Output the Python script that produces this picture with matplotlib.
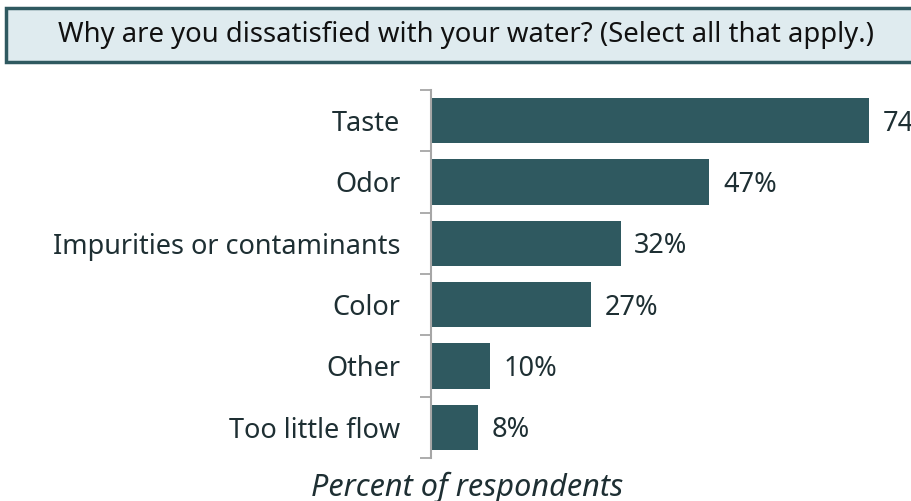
import matplotlib.pyplot as plt
from matplotlib.patches import Rectangle

categories = ['Taste', 'Odor', 'Impurities or contaminants', 'Color', 'Other', 'Too little flow']
values = [74, 47, 32, 27, 10, 8]

title = 'Why are you dissatisfied with your water? (Select all that apply.)'
bar_color = '#2F5960'
text_color = '#1E2F33'

plt.rcParams['font.family'] = ['Noto Sans', 'DejaVu Sans']

fig = plt.figure(figsize=(9.11, 5.01), dpi=100)
ax = fig.add_axes([431 / 911, 43 / 501, 474 / 911, 368 / 501])

y = list(range(len(categories)))
ax.barh(y, values, height=0.74, color=bar_color)
ax.set_ylim(len(categories) - 0.5, -0.5)
ax.set_xlim(0, 80)

for yi, v in zip(y, values):
    ax.text(v + 2.3, yi + 0.05, f'{v}%', va='center', ha='left',
            fontsize=19.5, color=text_color, clip_on=False)

ax.set_yticks(y)
ax.set_yticklabels(categories, fontsize=19.5, color=text_color)
ax.tick_params(axis='y', which='major', length=0, pad=22)
ax.set_yticks([i - 0.5 for i in range(len(categories) + 1)], minor=True)
ax.tick_params(axis='y', which='minor', length=8, width=1.3, color='#A6A6A6')
ax.set_xticks([])

for s in ['top', 'right', 'bottom']:
    ax.spines[s].set_visible(False)
ax.spines['left'].set_color('#A6A6A6')
ax.spines['left'].set_linewidth(1.5)

fig.text(467 / 911, 14 / 501, 'Percent of respondents', ha='center', va='center',
         fontsize=22, style='italic', color=text_color)

box = Rectangle((6 / 911, 439 / 501), 910 / 911, 54 / 501, transform=fig.transFigure,
                facecolor='#DFEBEF', edgecolor=bar_color, linewidth=2.5, zorder=0)
fig.patches.append(box)
fig.text(466 / 911, 466 / 501, title, ha='center', va='center', fontsize=19.8, color='#111111')

fig.savefig('out.png', dpi=100)
